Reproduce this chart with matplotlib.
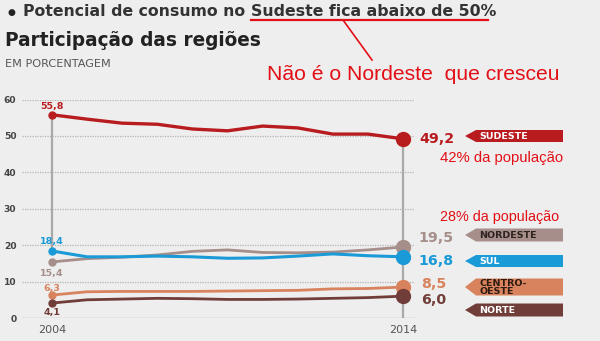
import matplotlib
matplotlib.use("Agg")
import matplotlib.pyplot as plt
from matplotlib.patches import Polygon
from matplotlib.lines import Line2D

# ---------------- data ----------------
years = [2004, 2005, 2006, 2007, 2008, 2009, 2010, 2011, 2012, 2013, 2014]
sudeste = [55.8, 54.6, 53.5, 53.2, 51.9, 51.4, 52.7, 52.2, 50.5, 50.5, 49.2]
nordeste = [15.4, 16.3, 16.7, 17.3, 18.3, 18.7, 18.0, 17.9, 18.1, 18.7, 19.5]
sul = [18.4, 16.8, 16.8, 17.0, 16.8, 16.4, 16.5, 17.0, 17.6, 17.1, 16.8]
centro_oeste = [6.3, 7.2, 7.3, 7.3, 7.3, 7.4, 7.5, 7.6, 8.0, 8.1, 8.5]
norte = [4.1, 5.0, 5.2, 5.4, 5.3, 5.1, 5.1, 5.2, 5.4, 5.6, 6.0]
region_names = ["SUDESTE", "NORDESTE", "SUL", "CENTRO-\nOESTE", "NORTE"]
y_ticks = [0, 10, 20, 30, 40, 50, 60]
x_ticks = [2004, 2014]

title_a = "Potencial de consumo no "
title_b = "Sudeste fica abaixo de 50%"
chart_title = "Participação das regiões"
unit_text = "EM PORCENTAGEM"
note_main = "Não é o Nordeste  que cresceu"
note_sudeste = "42% da população"
note_nordeste = "28% da população"

# ---------------- styles ----------------
W, H = 600, 341
BG = "#eeeeee"
c_sud = "#b81c1f"
c_nor = "#a68f8a"
c_sul = "#1a9ad6"
c_co = "#d8835d"
c_nte = "#713d39"
RED = "#e30f17"

fig = plt.figure(figsize=(W / 100, H / 100), dpi=100, facecolor=BG)
renderer = fig.canvas.get_renderer()


def P(x, y):
    return (x / W, 1 - y / H)


def ftext(x, y, s, target_w=None, **kw):
    t = fig.text(*P(x, y), s, transform=fig.transFigure, **kw)
    if target_w is not None:
        w = t.get_window_extent(renderer).width
        t.set_fontsize(t.get_fontsize() * target_w / w)
    return t


# axes: y=0 at pixel 318, y=60 at pixel 99.5; x 2004 at 52, 2014 at 403
ax = fig.add_axes([22 / W, (H - 318) / H, (415 - 22) / W, (318 - 99.5) / H])
ax.set_facecolor("none")
ax.set_xlim(2004 - 30 / 35.1, 2014 + 12 / 35.1)
ax.set_ylim(0, 60)
for s in ax.spines.values():
    s.set_visible(False)

for v in y_ticks:
    if v == 0:
        ax.axhline(v, color="#b8b8b8", lw=1.0, zorder=1)
    else:
        ax.axhline(v, color="#b4b4b4", lw=0.9, ls=(0, (1, 1)), zorder=1)

ax.set_yticks(y_ticks)
ax.set_yticklabels([str(v) for v in y_ticks], fontweight="bold")
ax.tick_params(axis="y", length=0, pad=4, labelsize=6.6, labelcolor="#444444")
ax.set_xticks(x_ticks)
ax.set_xticklabels([str(v) for v in x_ticks])
ax.tick_params(axis="x", length=0, pad=5, labelsize=8, labelcolor="#555555")

# vertical guides
ax.vlines(years[0], sul[0], sudeste[0], color="#a9a9a9", lw=1.6, zorder=2)
ax.vlines(years[-1], 0, sudeste[-1], color="#a9a9a9", lw=1.6, zorder=2)

series = [
    (sudeste, c_sud, 2.4),
    (nordeste, c_nor, 2.0),
    (sul, c_sul, 2.2),
    (centro_oeste, c_co, 2.0),
    (norte, c_nte, 2.0),
]
for vals, col, lw in series:
    ax.plot(years, vals, color=col, lw=lw, solid_capstyle="round", zorder=3)
    ax.plot(years[0], vals[0], "o", color=col, ms=5, zorder=4)
    ax.plot(years[-1], vals[-1], "o", color=col, ms=10, zorder=4)


def fmt(v):
    return f"{v:.1f}".replace(".", ",")


# start labels (offset in pixels)
start_offsets = [(0, 8), (0, -12), (0, 9), (0, 7), (0, -9)]
for (vals, col, _), (dx, dy) in zip(series, start_offsets):
    ax.annotate(fmt(vals[0]), xy=(years[0], vals[0]), xytext=(dx, dy),
                textcoords="offset pixels", ha="center", va="center",
                fontsize=6.8, fontweight="bold", color=col, zorder=5)

# end labels
end_offsets = [(34, 0), (33, 9), (33, -4), (31, 3), (31, -4)]
for (vals, col, _), (dx, dy) in zip(series, end_offsets):
    ax.annotate(fmt(vals[-1]), xy=(years[-1], vals[-1]), xytext=(dx, dy),
                textcoords="offset pixels", ha="center", va="center",
                fontsize=10.2, fontweight="heavy", color=col, zorder=5)

# region tags
tag_specs = [
    (136, 12, c_sud, "white"),
    (235, 13, c_nor, "#2e2220"),
    (261, 12, c_sul, "white"),
    (287, 17, c_co, "#2e1a10"),
    (310, 13, c_nte, "white"),
]
for name, (yc, h, col, tc) in zip(region_names, tag_specs):
    pts = [P(465, yc), P(476, yc - h / 2), P(563, yc - h / 2),
           P(563, yc + h / 2), P(476, yc + h / 2)]
    fig.patches.append(Polygon(pts, closed=True, transform=fig.transFigure,
                               facecolor=col, edgecolor="none"))
    ftext(479, yc + 0.5, name, fontsize=6.8, fontweight="bold", color=tc,
          va="center", ha="left", linespacing=0.8)

# ---------------- header texts ----------------
fig.text(*P(11, 12), "●", transform=fig.transFigure, fontsize=6.5,
         color="#222222", ha="center", va="center")
ta = ftext(23, 12, title_a, fontsize=9.3, fontweight="bold", color="#333333",
           va="center", ha="left")
fig.canvas.draw()
ea = ta.get_window_extent(renderer)
x_b = ea.x1
tb = fig.text(x_b / W, 1 - 12 / H, title_b, transform=fig.transFigure,
              fontsize=ta.get_fontsize(), fontweight="bold", color="#333333",
              va="center", ha="left")
eb = tb.get_window_extent(renderer)
# scale both so total spans 23..495
total = eb.x1 - ea.x0
scale = (495 - 23) / total
ta.set_fontsize(ta.get_fontsize() * scale)
tb.set_fontsize(tb.get_fontsize() * scale)
fig.canvas.draw()
ea = ta.get_window_extent(renderer)
tb.set_position((ea.x1 / W, 1 - 12 / H))
fig.canvas.draw()
eb = tb.get_window_extent(renderer)
fig.add_artist(Line2D([eb.x0 / W, (eb.x1 - 8) / W], [1 - 19.5 / H, 1 - 19.5 / H],
                      transform=fig.transFigure, color=RED, lw=1.6))
fig.add_artist(Line2D([343 / W, 372 / W], [1 - 20 / H, 1 - 60 / H],
                      transform=fig.transFigure, color=RED, lw=1.2))

ftext(5, 40, chart_title, target_w=258, fontsize=11.5, fontweight="heavy",
      color="#222222", va="center", ha="left")
ftext(5, 64, unit_text, target_w=105, fontsize=5.5, color="#555555",
      va="center", ha="left")

ftext(267, 75, note_main, target_w=291, fontsize=13.4, family="Liberation Sans",
      color=RED, va="center", ha="left")
ftext(440, 158, note_sudeste, target_w=124, fontsize=10, family="Liberation Sans",
      color=RED, va="center", ha="left")
ftext(440, 217, note_nordeste, target_w=120, fontsize=10, family="Liberation Sans",
      color=RED, va="center", ha="left")

fig.savefig("out.png", dpi=100, facecolor=BG)
